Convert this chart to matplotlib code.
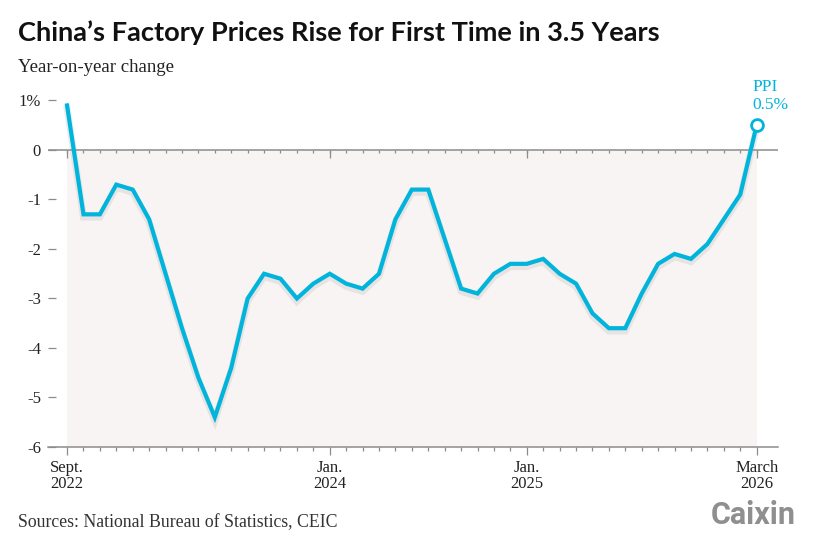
"""China PPI year-on-year change, Sept. 2022 to March 2026."""

import matplotlib.pyplot as plt
import matplotlib.patheffects as pe
import numpy as np

# monthly PPI, y/y %, Sept. 2022 .. March 2026
ppi = [
    0.9, -1.3, -1.3, -0.7,                                              # 2022 Sep-Dec
    -0.8, -1.4, -2.5, -3.6, -4.6, -5.4, -4.4, -3.0, -2.5, -2.6, -3.0, -2.7,  # 2023
    -2.5, -2.7, -2.8, -2.5, -1.4, -0.8, -0.8, -1.8, -2.8, -2.9, -2.5, -2.3,  # 2024
    -2.3, -2.2, -2.5, -2.7, -3.3, -3.6, -3.6, -2.9, -2.3, -2.1, -2.2, -1.9,  # 2025
    -1.4, -0.9, 0.5,                                                     # 2026 Jan-Mar
]
month_idx = np.arange(len(ppi))
major_idx = [0, 16, 28, 42]
major_labels = ["Sept.\n2022", "Jan.\n2024", "Jan.\n2025", "March\n2026"]
y_ticks = [1, 0, -1, -2, -3, -4, -5, -6]
y_labels = ["1%", "0", "-1", "-2", "-3", "-4", "-5", "-6"]

LINE = "#00b4dc"
GREY = "#8c8c8c"
SERIF = "Liberation Serif"

fig = plt.figure(figsize=(8.17, 5.48), dpi=100)
ax = fig.add_axes([48 / 817, 1 - 447 / 548, 730 / 817, 349 / 548])
ax.set_xlim(-1.16, 43.3)
ax.set_ylim(-6, 1.05)

# shaded negative territory
ax.fill_between([month_idx[0], month_idx[-1]], -6, 0, color="#f9f4f4", lw=0, zorder=0)
ax.axhline(0, color=GREY, lw=1.1, zorder=1)

# month ticks hanging off the zero line
ax.vlines(month_idx, 0, -0.07, color=GREY, lw=0.9, zorder=1)
ax.vlines(major_idx, 0, -0.16, color=GREY, lw=0.9, zorder=1)

ax.plot(
    month_idx, ppi, color=LINE, lw=3.0, solid_joinstyle="miter", zorder=3,
    path_effects=[pe.SimpleLineShadow(offset=(0, -2), shadow_color="#999999", alpha=0.18, linewidth=5),
                  pe.Normal()],
)
ax.plot(month_idx[-1], ppi[-1], "o", ms=8.5, mfc="white", mec=LINE, mew=2.0, zorder=4, clip_on=False)
ax.text(month_idx[-1] - 0.25, ppi[-1] + 0.78, "PPI", color=LINE, fontsize=12.5, family=SERIF,
        ha="left", va="center")
ax.text(month_idx[-1] - 0.25, ppi[-1] + 0.4, "0.5%", color=LINE, fontsize=12.5, family=SERIF,
        ha="left", va="center")

for side in ["top", "right", "left"]:
    ax.spines[side].set_visible(False)
ax.spines["bottom"].set_color(GREY)
ax.spines["bottom"].set_linewidth(1.1)

ax.set_xticks(major_idx)
ax.set_xticklabels(major_labels, family=SERIF, fontsize=12, color="#222222", linespacing=1.0)
ax.set_xticks(month_idx, minor=True)
ax.tick_params(axis="x", which="major", direction="out", length=6, width=0.9, color=GREY, pad=3)
ax.tick_params(axis="x", which="minor", direction="out", length=2.6, width=0.9, color=GREY)

ax.set_yticks(y_ticks)
ax.set_yticklabels(y_labels, family=SERIF, fontsize=12, color="#222222")
ax.tick_params(axis="y", direction="in", length=6, width=0.9, color=GREY, pad=5)

fig.text(18 / 817, 1 - 33 / 548, "China\u2019s Factory Prices Rise for First Time in 3.5 Years",
         family="Lato", weight="bold", fontsize=19.6, va="center", ha="left", color="#111111")
fig.text(18 / 817, 1 - 67 / 548, "Year-on-year change", family=SERIF, fontsize=13.5, va="center", ha="left",
         color="#222222")
fig.text(18 / 817, 1 - 523 / 548, "Sources: National Bureau of Statistics, CEIC", family=SERIF, fontsize=12.8,
         va="center", ha="left", color="#333333")
fig.text(796 / 817, 1 - 515 / 548, "Caixin", family="Roboto", weight="bold", fontsize=22, va="center",
         ha="right", color="#8f8f8f")

fig.savefig("out.png", dpi=100)
